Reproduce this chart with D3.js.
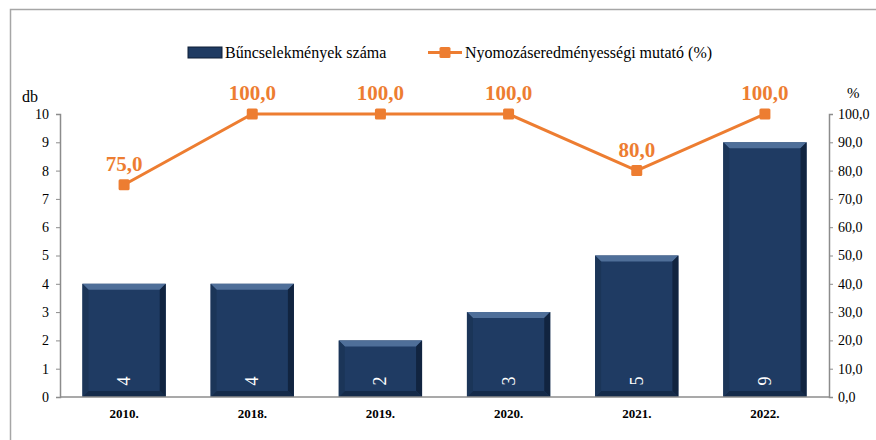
<!DOCTYPE html>
<html>
<head>
<meta charset="utf-8">
<script src="https://cdn.jsdelivr.net/npm/d3@7"></script>
<style>
  html, body { margin: 0; padding: 0; background: #fff; }
  #chart text { font-family: "Times New Roman", "Liberation Serif", Tinos, serif !important; }
</style>
</head>
<body>
<svg id="chart" width="876" height="440"></svg>
<script>
(() => {
  const categories = ["2010.", "2018.", "2019.", "2020.", "2021.", "2022."];
  const crimeCounts = [4, 4, 2, 3, 5, 9];
  const clearanceRates = [75.0, 100.0, 100.0, 100.0, 80.0, 100.0];
  const leftTicks = [0, 1, 2, 3, 4, 5, 6, 7, 8, 9, 10];
  const rightTicks = [0, 10, 20, 30, 40, 50, 60, 70, 80, 90, 100];
  const legendLabels = ["Bűncselekmények száma", "Nyomozáseredményességi mutató (%)"];

  const BAR_FILL = "#1f3b63";
  const LINE_COLOR = "#ed7d31";
  const AXIS_COLOR = "#8c8c8c";
  const SERIF = "Times New Roman";

  const svg = d3.select("#chart");
  const plot = { left: 60, right: 829, top: 114, bottom: 397 };

  const fmt = (v) => v.toFixed(1).replace(".", ",");

  // frame
  svg.append("rect")
    .attr("x", 10.5).attr("y", 9.5)
    .attr("width", 900).attr("height", 500)
    .attr("fill", "none").attr("stroke", "#a6a6a6").attr("stroke-width", 1.5);

  const x = d3.scaleBand()
    .domain(categories)
    .range([plot.left, plot.right])
    .paddingInner(0.35)
    .paddingOuter(0.175);
  const yLeft = d3.scaleLinear().domain([0, 10]).range([plot.bottom, plot.top]);
  const yRight = d3.scaleLinear().domain([0, 100]).range([plot.bottom, plot.top]);

  // axes
  const leftAxis = d3.axisLeft(yLeft).tickValues(leftTicks).tickSize(4).tickPadding(7)
    .tickFormat(d3.format("d"));
  const rightAxis = d3.axisRight(yRight).tickValues(rightTicks).tickSize(4).tickPadding(5)
    .tickFormat(fmt);

  const gl = svg.append("g").attr("transform", `translate(${plot.left},0)`).call(leftAxis);
  const gr = svg.append("g").attr("transform", `translate(${plot.right},0)`).call(rightAxis);
  [gl, gr].forEach((g) => {
    g.attr("font-family", SERIF).attr("font-size", 14);
    g.select(".domain").attr("stroke", AXIS_COLOR).attr("stroke-width", 1.5);
    g.selectAll(".tick line").attr("stroke", AXIS_COLOR);
    g.selectAll(".tick text").attr("fill", "#000");
  });

  svg.append("text").attr("x", 22).attr("y", 102)
    .attr("font-family", SERIF).attr("font-size", 16).text("db");
  svg.append("text").attr("x", 847).attr("y", 98)
    .attr("font-family", SERIF).attr("font-size", 15).text("%");

  // bars with a flat bevel
  const bev = 6;
  const bars = svg.append("g").selectAll("g.bar").data(crimeCounts).join("g").attr("class", "bar");
  bars.each(function drawBar(d, i) {
    const g = d3.select(this);
    const x0 = x(categories[i]);
    const w = x.bandwidth();
    const y0 = yLeft(d);
    const y1 = yLeft(0);
    g.append("rect").attr("x", x0).attr("y", y0).attr("width", w).attr("height", y1 - y0)
      .attr("fill", BAR_FILL);
    g.append("polygon")
      .attr("points", `${x0},${y0} ${x0 + w},${y0} ${x0 + w - bev},${y0 + bev} ${x0 + bev},${y0 + bev}`)
      .attr("fill", "#4f6f99");
    g.append("polygon")
      .attr("points", `${x0 + w},${y0} ${x0 + w},${y1} ${x0 + w - bev},${y1 - bev} ${x0 + w - bev},${y0 + bev}`)
      .attr("fill", "#112440");
    g.append("polygon")
      .attr("points", `${x0},${y1} ${x0 + w},${y1} ${x0 + w - bev},${y1 - bev} ${x0 + bev},${y1 - bev}`)
      .attr("fill", "#152b4a");
    g.append("polygon")
      .attr("points", `${x0},${y0} ${x0 + bev},${y0 + bev} ${x0 + bev},${y1 - bev} ${x0},${y1}`)
      .attr("fill", "#1b3558");
  });
  svg.append("g").selectAll("text").data(crimeCounts).join("text")
    .attr("transform", (d, i) => `translate(${x(categories[i]) + x.bandwidth() / 2 + 6},${yLeft(0) - 16}) rotate(-90)`)
    .attr("text-anchor", "middle")
    .attr("fill", "#ffffff")
    .attr("font-family", SERIF)
    .attr("font-size", 18)
    .text((d) => d);

  // x axis line and labels
  svg.append("line")
    .attr("x1", plot.left).attr("x2", plot.right)
    .attr("y1", plot.bottom).attr("y2", plot.bottom)
    .attr("stroke", AXIS_COLOR).attr("stroke-width", 1.5);
  svg.append("g").selectAll("text").data(categories).join("text")
    .attr("x", (d) => x(d) + x.bandwidth() / 2)
    .attr("y", 418)
    .attr("text-anchor", "middle")
    .attr("font-family", SERIF)
    .attr("font-size", 13)
    .attr("font-weight", "bold")
    .text((d) => d);

  // line series
  const cx = (i) => x(categories[i]) + x.bandwidth() / 2;
  const line = d3.line().x((d, i) => cx(i)).y((d) => yRight(d));
  svg.append("path").datum(clearanceRates)
    .attr("d", line)
    .attr("fill", "none")
    .attr("stroke", LINE_COLOR)
    .attr("stroke-width", 3);
  svg.append("g").selectAll("rect").data(clearanceRates).join("rect")
    .attr("x", (d, i) => cx(i) - 5.5)
    .attr("y", (d) => yRight(d) - 5.5)
    .attr("width", 11).attr("height", 11)
    .attr("rx", 1.5)
    .attr("fill", LINE_COLOR);
  svg.append("g").selectAll("text").data(clearanceRates).join("text")
    .attr("x", (d, i) => cx(i))
    .attr("y", (d) => yRight(d) - 14)
    .attr("text-anchor", "middle")
    .attr("fill", LINE_COLOR)
    .attr("font-family", SERIF)
    .attr("font-size", 21)
    .attr("font-weight", "bold")
    .text(fmt);

  // legend
  const legend = svg.append("g").attr("font-size", 16);
  legend.append("rect").attr("x", 188).attr("y", 47).attr("width", 34).attr("height", 11)
    .attr("fill", BAR_FILL).attr("stroke", "#0f1f36").attr("stroke-width", 1);
  legend.append("text").attr("x", 225).attr("y", 58).attr("font-family", SERIF).text(legendLabels[0]);
  legend.append("line").attr("x1", 428).attr("x2", 462).attr("y1", 52.5).attr("y2", 52.5)
    .attr("stroke", LINE_COLOR).attr("stroke-width", 3);
  legend.append("rect").attr("x", 439.5).attr("y", 47).attr("width", 11).attr("height", 11)
    .attr("rx", 1.5).attr("fill", LINE_COLOR);
  legend.append("text").attr("x", 465).attr("y", 58).attr("font-family", SERIF).text(legendLabels[1]);
})();
</script>
</body>
</html>
